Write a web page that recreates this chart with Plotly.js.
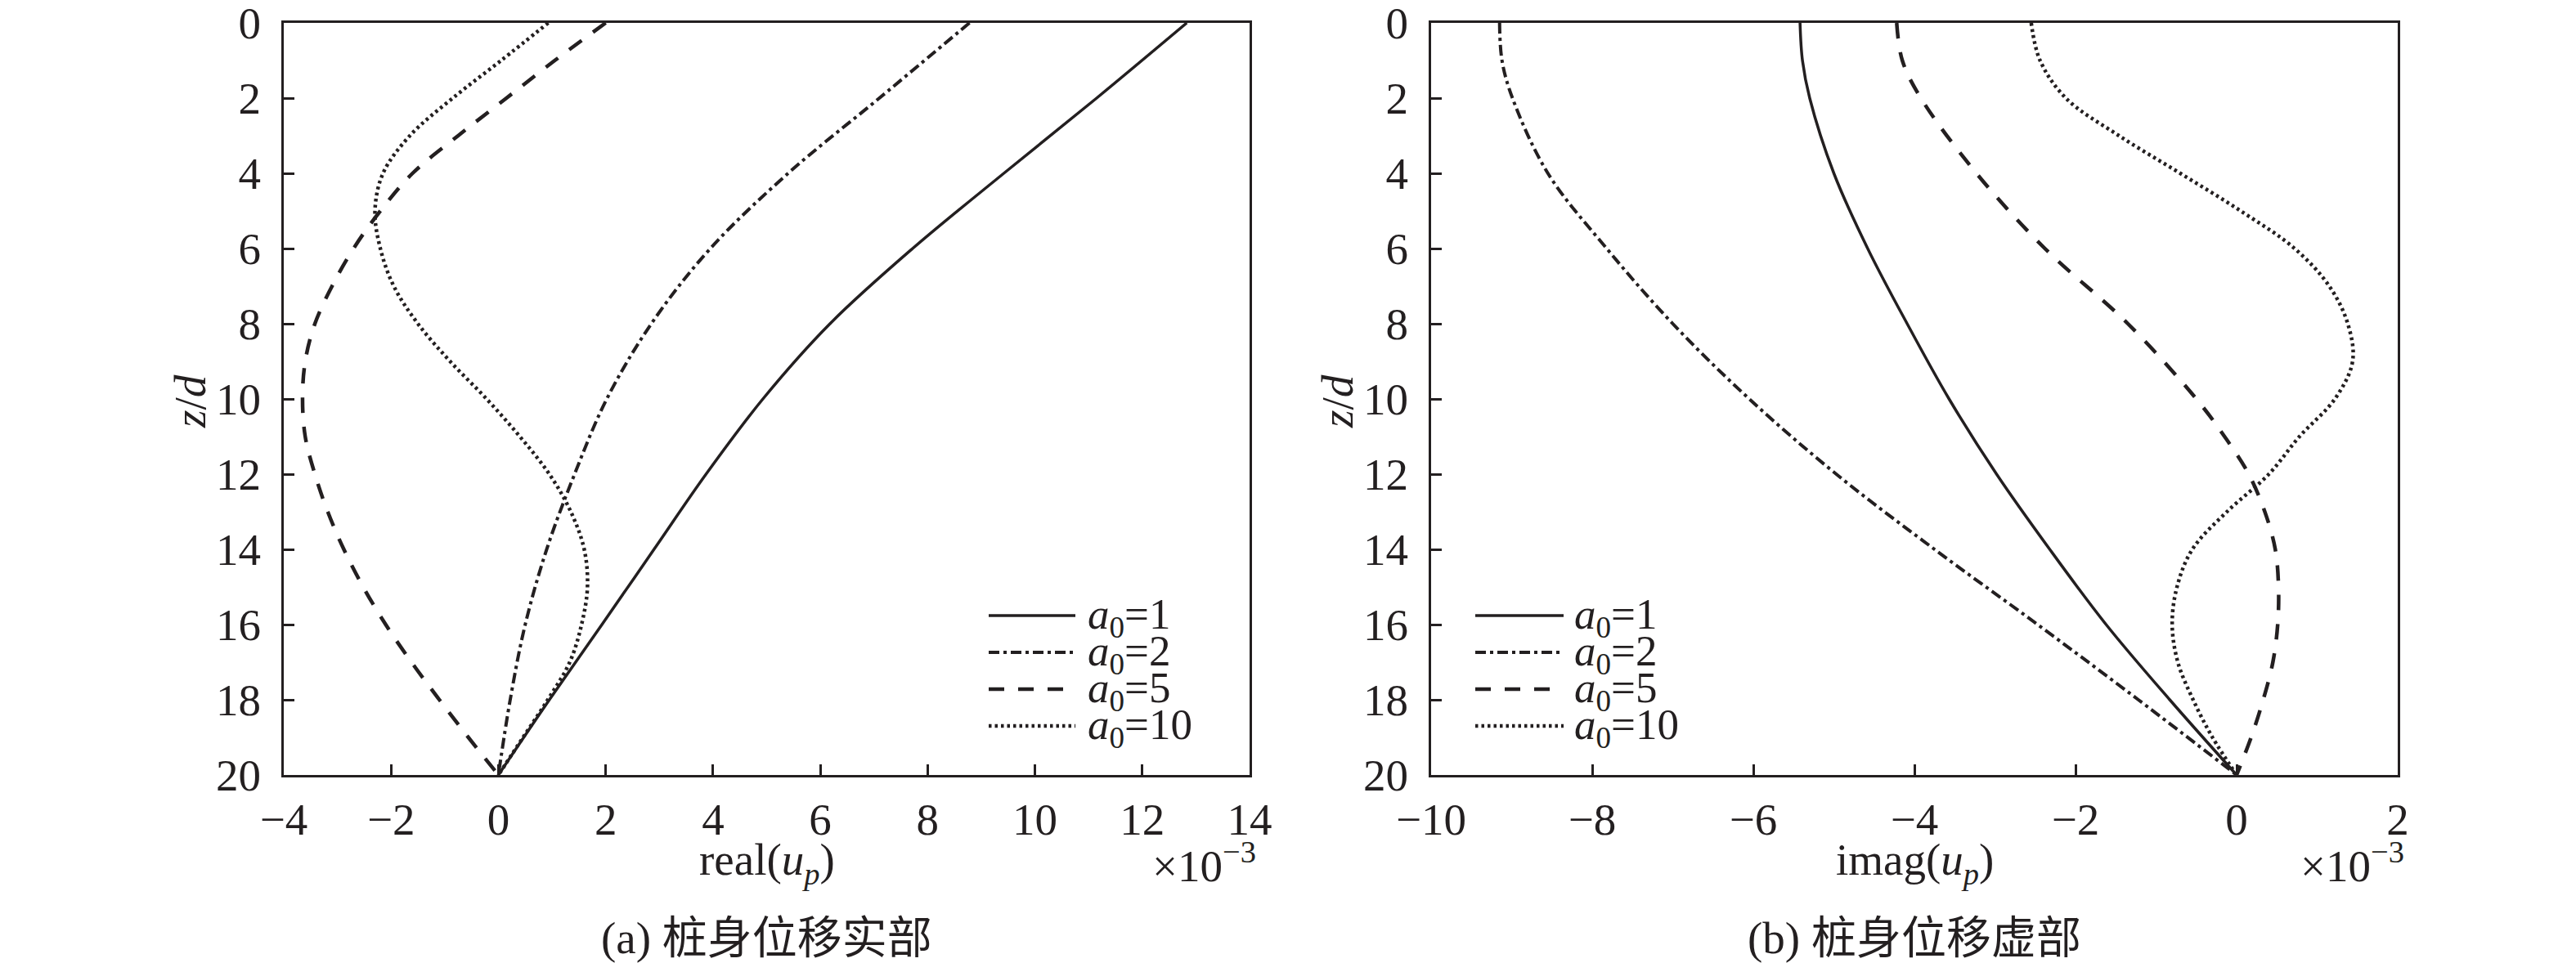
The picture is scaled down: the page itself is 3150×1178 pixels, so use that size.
<!DOCTYPE html>
<html>
<head>
<meta charset="utf-8">
<script src="https://cdn.plot.ly/plotly-3.0.1.min.js"></script>
<style>
  html, body { margin: 0; padding: 0; background: #ffffff; }
  #plot { width: 3150px; height: 1178px; }
</style>
</head>
<body>
<div id="plot"></div>
<script>

// ---- Data (u_p values in units of 1e-3) ----

// (a) real part
let real_z_1  = [0, 2, 4, 6, 8, 10, 12, 14, 16, 18, 20];
let real_a0_1 = [12.83, 11.15, 9.42, 7.72, 6.18, 4.93, 3.87, 2.9, 1.93, 0.95, 0];

let real_z_2  = [0, 2, 4, 6, 8, 10, 12, 14, 16, 18, 20];
let real_a0_2 = [8.78, 7.1, 5.4, 3.95, 2.85, 2.02, 1.42, 0.9, 0.5, 0.22, 0];

let real_z_5  = [0, 1, 2, 3, 4, 5, 6, 7, 8, 9, 10, 11, 12, 13, 14, 15, 16, 17, 18, 19, 20];
let real_a0_5 = [2.0, 1.05, 0.15, -0.75, -1.6, -2.2, -2.7, -3.1, -3.42, -3.6, -3.65, -3.6, -3.42, -3.18, -2.88, -2.52, -2.1, -1.62, -1.1, -0.56, 0];

let real_z_10  = [0, 1, 2, 3, 4, 5, 6, 7, 8, 9, 10, 11, 12, 13, 14, 15, 16, 17, 18, 19, 20];
let real_a0_10 = [0.93, 0.05, -0.85, -1.65, -2.15, -2.3, -2.2, -1.95, -1.5, -0.9, -0.22, 0.4, 0.95, 1.35, 1.6, 1.66, 1.55, 1.33, 0.92, 0.46, 0];

// (b) imaginary part
let imag_z_1  = [0, 1, 2, 4, 6, 8, 10, 12, 14, 16, 18, 20];
let imag_a0_1 = [-5.42, -5.39, -5.3, -5.0, -4.58, -4.09, -3.57, -2.98, -2.32, -1.62, -0.83, 0];

let imag_z_2  = [0, 1, 2, 4, 6, 8, 10, 12, 14, 16, 18, 20];
let imag_a0_2 = [-9.15, -9.12, -8.99, -8.55, -7.82, -7.0, -6.05, -4.97, -3.75, -2.47, -1.22, 0];

let imag_z_5  = [0, 1, 2, 4, 6, 8, 10, 11, 12, 13, 14, 15, 16, 17, 18, 19, 20];
let imag_a0_5 = [-4.22, -4.15, -3.92, -3.23, -2.38, -1.35, -0.5, -0.15, 0.15, 0.35, 0.48, 0.52, 0.51, 0.45, 0.33, 0.18, 0];

let imag_z_10  = [0, 1, 2, 3, 4, 5, 6, 7, 8, 9, 10, 11, 12, 13, 14, 15, 16, 17, 18, 19, 20];
let imag_a0_10 = [-2.55, -2.44, -2.12, -1.46, -0.7, 0.05, 0.72, 1.15, 1.38, 1.44, 1.22, 0.78, 0.4, -0.12, -0.55, -0.74, -0.8, -0.73, -0.54, -0.3, 0];

// Legend labels and tick values
let series_labels = ['<i>a</i><sub>0</sub>=1', '<i>a</i><sub>0</sub>=2', '<i>a</i><sub>0</sub>=5', '<i>a</i><sub>0</sub>=10'];
let real_ticks = [-4, -2, 0, 2, 4, 6, 8, 10, 12, 14];
let imag_ticks = [-10, -8, -6, -4, -2, 0, 2];
let z_ticks = [0, 2, 4, 6, 8, 10, 12, 14, 16, 18, 20];

// ---- Styles ----
const W = 3150;
const H = 1178;
const INK = '#231f20';
const FONT = '"Liberation Serif", "Noto Sans CJK SC", serif';

let dashes = ['solid', '13px,5px,4px,5px', '19px,17px', '3.5px,4px'];
let widths = [3.5, 4, 4.5, 4.5];

// pixel -> paper helpers
let px = x => x / W;
let py = y => 1 - y / H;

// Frame boxes of the two panels (in page pixels)
let boxA = {l: 347, r: 1528, t: 28, b: 948};
let boxB = {l: 1750, r: 2932, t: 28, b: 948};

// ---- Traces ----
function lineTrace(xs, zs, i, xa, ya) {
  return {
    x: xs,
    y: zs,
    xaxis: xa,
    yaxis: ya,
    type: 'scatter',
    mode: 'lines',
    line: {color: INK, width: widths[i], dash: dashes[i], shape: 'spline', smoothing: 1},
    hoverinfo: 'none',
    showlegend: false
  };
}

let data = [
  lineTrace(real_a0_1, real_z_1, 0, 'x', 'y'),
  lineTrace(real_a0_2, real_z_2, 1, 'x', 'y'),
  lineTrace(real_a0_5, real_z_5, 2, 'x', 'y'),
  lineTrace(real_a0_10, real_z_10, 3, 'x', 'y'),
  lineTrace(imag_a0_1, imag_z_1, 0, 'x2', 'y2'),
  lineTrace(imag_a0_2, imag_z_2, 1, 'x2', 'y2'),
  lineTrace(imag_a0_5, imag_z_5, 2, 'x2', 'y2'),
  lineTrace(imag_a0_10, imag_z_10, 3, 'x2', 'y2')
];

// ---- Axes ----
function axisBase() {
  return {
    showline: true,
    mirror: true,
    linecolor: INK,
    linewidth: 3,
    ticks: 'inside',
    ticklen: 13,
    tickwidth: 3,
    tickcolor: INK,
    showgrid: false,
    zeroline: false,
    fixedrange: true,
    tickmode: 'array',
    ticklabeloverflow: 'allow',
    tickfont: {family: FONT, size: 55, color: INK}
  };
}

function xAxis(box, range, ticks, anchor) {
  let ax = axisBase();
  ax.domain = [px(box.l), px(box.r)];
  ax.range = range;
  ax.tickvals = ticks;
  ax.ticktext = ticks.map(v => v < 0 ? '\u2212' + Math.abs(v) : String(v));
  ax.anchor = anchor;
  ax.ticklabelstandoff = 4;
  return ax;
}

function yAxis(box, anchor) {
  let ax = axisBase();
  ax.domain = [py(box.b), py(box.t)];
  ax.range = [20, 0];
  ax.tickvals = z_ticks;
  ax.anchor = anchor;
  ax.ticklabelstandoff = 14;
  return ax;
}

// ---- Text and legend (annotations + shapes in paper coords) ----
let annotations = [];
let shapes = [];

function addText(text, x, y, opts) {
  annotations.push(Object.assign({
    text: text,
    x: px(x),
    y: py(y),
    xref: 'paper',
    yref: 'paper',
    showarrow: false,
    xanchor: 'center',
    yanchor: 'middle',
    font: {family: FONT, size: 55, color: INK}
  }, opts || {}));
}

function addPanelText(box, xtitle, caption) {
  let cx = (box.l + box.r) / 2;
  addText(xtitle, cx, 1055);
  addText('\u00d710<sup>\u22123</sup>', box.r + 10, 1055, {xanchor: 'right'});
  addText(caption, cx, 1147);
  addText('<i>z</i>/<i>d</i>', box.l - 115, 491, {textangle: -90});
}

function addLegend(lineL, lineR, textL) {
  let rows = [753, 798, 843, 888];
  rows.forEach((y, i) => {
    shapes.push({
      type: 'line',
      xref: 'paper',
      yref: 'paper',
      x0: px(lineL),
      x1: px(lineR),
      y0: py(y),
      y1: py(y),
      line: {color: INK, width: widths[i], dash: dashes[i]}
    });
    addText(series_labels[i], textL, y + 2, {xanchor: 'left', font: {family: FONT, size: 53, color: INK}});
  });
}

addPanelText(boxA, 'real(<i>u<sub>p</sub></i>)', '(a) 桩身位移实部');
addPanelText(boxB, 'imag(<i>u<sub>p</sub></i>)', '(b) 桩身位移虚部');
addLegend(1209, 1315, 1328);
addLegend(1804, 1912, 1923);

let layout = {
  width: W,
  height: H,
  autosize: false,
  margin: {l: 0, r: 0, t: 0, b: 0, pad: 0},
  paper_bgcolor: '#ffffff',
  plot_bgcolor: '#ffffff',
  showlegend: false,
  font: {family: FONT, size: 55, color: INK},
  xaxis: xAxis(boxA, [-4, 14], real_ticks, 'y'),
  yaxis: yAxis(boxA, 'x'),
  xaxis2: xAxis(boxB, [-10, 2], imag_ticks, 'y2'),
  yaxis2: yAxis(boxB, 'x2'),
  annotations: annotations,
  shapes: shapes
};

let config = {displayModeBar: false, staticPlot: true};

Plotly.newPlot('plot', data, layout, config);

</script>
</body>
</html>
